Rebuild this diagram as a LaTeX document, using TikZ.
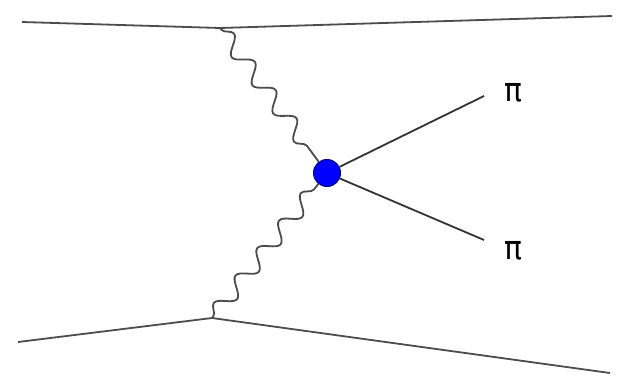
\documentclass[tikz,border=0pt]{standalone}
\usepackage{fontspec}
\setmainfont{DejaVu Sans}
\usetikzlibrary{decorations.pathmorphing}
\begin{document}
\begin{tikzpicture}[x=1pt,y=-1pt,
  fermion/.style={line width=1.8pt, draw=black!70},
  photon/.style={line width=1.8pt, draw=black!70, decorate,
    decoration={snake, segment length=35pt, amplitude=8pt, pre length=2pt, post length=4pt}},
  pion/.style={line width=1.8pt, draw=black!80},
  lbl/.style={font=\fontsize{33}{33}\selectfont, inner sep=0pt, xscale=0.9}]
\useasboundingbox (0,0) rectangle (634,383);
\coordinate (tl) at (22,22);
\coordinate (tv) at (220,28);
\coordinate (tr) at (612,16);
\coordinate (bl) at (18,342);
\coordinate (bv) at (212,318);
\coordinate (br) at (610,373);
\node[circle, fill=blue, draw=blue!50!black, line width=1pt, minimum size=27pt, inner sep=0pt] (blob) at (327,173) {};
\coordinate (p1) at (484,96);
\coordinate (p2) at (484,240);
\node[lbl] (l1) at (513,93) {π};
\node[lbl] (l2) at (513,251) {π};
\draw[fermion] (tl) -- (tv) -- (tr);
\draw[fermion] (bl) -- (bv) -- (br);
\draw[photon] (tv) -- (blob);
\draw[photon] (bv) -- (blob);
\draw[pion] (blob) -- (p1);
\draw[pion] (blob) -- (p2);
\end{tikzpicture}
\end{document}
